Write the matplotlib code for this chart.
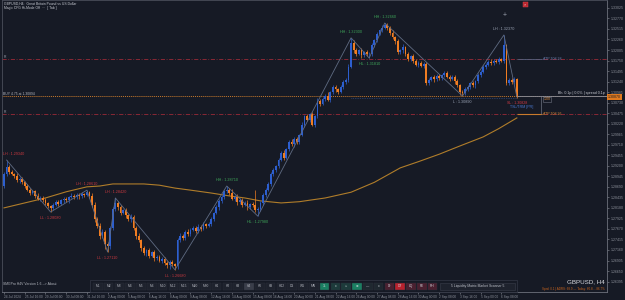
import matplotlib
matplotlib.use("Agg")
import matplotlib.pyplot as plt
from matplotlib.patches import Rectangle
import numpy as np

plt.rcParams['font.family'] = ['Liberation Sans', 'DejaVu Sans']

BG = "#161a25"
BULL = "#2d5fcf"
BEAR = "#f07d22"
AXIS_TXT = "#8d919b"

# H4 closes, in pips above 1.26000 ; bar 0 = 24 Jul 2024 08:00
closes = [
    300, 318, 305, 300, 296, 285, 288, 280, 272, 262,
    255, 258, 247, 240, 243, 236, 230, 222, 218, 226,
    232, 228, 236, 240, 236, 244, 248, 244, 250, 246,
    252, 250, 256, 248, 225, 190, 175, 150, 160, 130,
    125, 170, 215, 230, 220, 205, 212, 200, 190, 196,
    170, 150, 140, 120, 108, 115, 102, 110, 96, 100,
    90, 95, 84, 80, 88, 82, 76, 140, 150, 145,
    160, 155, 165, 170, 162, 172, 168, 178, 175, 180,
    190, 205, 220, 235, 245, 258, 262, 255, 240, 245,
    232, 238, 225, 230, 220, 228, 225, 212, 215, 230,
    250, 262, 275, 300, 310, 320, 335, 350, 340, 360,
    378, 372, 385, 378, 395, 420, 440, 432, 445, 420,
    440, 478, 470, 482, 490, 480, 498, 510, 505, 500,
    512, 522, 528, 560, 618, 600, 592, 600, 588, 595,
    590, 592, 612, 625, 640, 648, 655, 660, 655, 642,
    632, 622, 595, 600, 608, 590, 578, 585, 575, 565,
    570, 562, 566, 520, 528, 535, 530, 538, 532, 540,
    545, 536, 530, 535, 525, 515, 500, 496, 505, 512,
    520, 515, 525, 540, 548, 560, 565, 572, 568, 575,
    572, 578, 575, 612, 520, 528, 522, 530, 487,
]
first_open = 272

upper_wick = [
    6, 16, 4, 5, 3, 6, 4, 5, 3, 4,
    5, 3, 4, 6, 3, 4, 5, 3, 4, 5,
    4, 6, 3, 5, 4, 3, 5, 4, 3, 5,
    4, 3, 5, 4, 6, 8, 5, 6, 7, 5,
    6, 4, 5, 12, 4, 6, 3, 5, 4, 6,
    5, 4, 6, 3, 5, 4, 6, 3, 5, 4,
    5, 3, 4, 6, 3, 4, 3, 5, 6, 4,
    5, 6, 4, 5, 3, 6, 4, 5, 3, 4,
    5, 4, 6, 5, 4, 3, 9, 5, 8, 4,
    6, 3, 5, 4, 6, 3, 4, 37, 5, 4,
    5, 3, 6, 4, 5, 3, 4, 6, 8, 3,
    5, 6, 4, 5, 3, 6, 4, 5, 3, 6,
    4, 6, 5, 4, 3, 8, 4, 5, 6, 4,
    3, 5, 4, 6, 12, 6, 5, 4, 6, 3,
    5, 4, 6, 3, 5, 4, 5, 6, 5, 4,
    6, 3, 5, 4, 6, 3, 5, 4, 6, 3,
    5, 4, 6, 5, 4, 3, 6, 4, 5, 3,
    4, 5, 3, 6, 4, 5, 3, 4, 5, 3,
    4, 6, 3, 5, 4, 3, 5, 4, 6, 3,
    4, 5, 3, 25, 3, 5, 4, 6, 3,
]
lower_wick = [
    5, 4, 6, 3, 5, 4, 6, 3, 5, 4,
    6, 3, 5, 4, 6, 3, 5, 4, 10, 5,
    4, 6, 3, 5, 4, 6, 3, 5, 4, 6,
    3, 5, 4, 6, 5, 7, 6, 8, 5, 12,
    14, 6, 5, 4, 6, 5, 3, 6, 4, 5,
    6, 7, 5, 6, 4, 6, 5, 4, 6, 5,
    4, 6, 5, 8, 10, 6, 8, 6, 5, 4,
    6, 4, 5, 3, 6, 4, 5, 3, 6, 4,
    5, 4, 3, 6, 4, 5, 3, 6, 4, 5,
    6, 4, 5, 3, 6, 4, 5, 4, 14, 5,
    4, 6, 3, 5, 4, 6, 5, 3, 6, 4,
    5, 3, 6, 4, 5, 3, 6, 4, 5, 3,
    6, 4, 5, 3, 6, 4, 5, 3, 6, 5,
    4, 6, 3, 5, 4, 6, 5, 4, 6, 5,
    4, 9, 5, 4, 6, 3, 5, 4, 6, 5,
    4, 6, 5, 3, 6, 4, 5, 3, 6, 4,
    5, 3, 6, 4, 5, 3, 6, 4, 5, 3,
    6, 4, 5, 3, 6, 4, 8, 7, 5, 4,
    5, 3, 6, 4, 5, 3, 6, 4, 5, 3,
    4, 5, 3, 6, 4, 5, 3, 4, 2,
]

# slow moving average, read at a few bars
ma_bars = [0, 6, 16, 24, 32, 37, 42, 54, 60, 66, 72, 80, 87, 93, 99, 107,
           114, 124, 134, 143, 153, 160, 168, 176, 185, 191, 198]
ma_pips = [218, 227, 242, 257, 269, 271, 276, 276, 273, 266, 261, 254, 247, 242, 235, 230,
           233, 242, 256, 280, 315, 330, 348, 368, 390, 410, 436]

# zigzag swings
swing_bars = [1, 18, 32, 40, 43, 66, 86, 98, 134, 141, 147, 177, 193]
swing_side = ["hi", "lo", "hi", "lo", "hi", "lo", "hi", "lo", "hi", "lo", "hi", "lo", "hi"]
swing_tags = ["LH", "LL", "LH", "LL", "LH", "LL", "HH", "HL", "HH", "HL", "HH", "L", "LH"]
swing_colors = ["#c8383f", "#c8383f", "#c8383f", "#c8383f", "#c8383f", "#c8383f",
                "#3fa85a", "#3fa85a", "#3fa85a", "#3fa85a", "#3fa85a", "#9aa3b5", "#9aa3b5"]

level_r1 = 1.31788
level_r2 = 1.30460
level_buy = 1.30894
level_stop = 1.30845

price_ticks = [1.33025, 1.32770, 1.32515, 1.32260, 1.32005, 1.31750, 1.31495,
               1.31240, 1.30985, 1.30730, 1.30475, 1.30220, 1.29965, 1.29710,
               1.29455, 1.29200, 1.28945, 1.28690, 1.28435, 1.28180, 1.27925,
               1.27670, 1.27415, 1.27160, 1.26905, 1.26650, 1.26395]

time_bars = [0, 8, 16, 24, 32, 40, 48, 56, 64, 72, 80, 88, 96, 104, 112,
             120, 128, 136, 144, 152, 160, 168, 176, 184, 192]
time_labels = ["24 Jul 2024", "25 Jul 16:00", "29 Jul 00:00", "30 Jul 08:00",
               "31 Jul 16:00", "2 Aug 00:00", "5 Aug 08:00", "6 Aug 16:00",
               "8 Aug 00:00", "9 Aug 08:00", "12 Aug 16:00", "14 Aug 00:00",
               "15 Aug 08:00", "16 Aug 16:00", "20 Aug 00:00", "21 Aug 08:00",
               "22 Aug 16:00", "26 Aug 00:00", "27 Aug 08:00", "28 Aug 16:00",
               "30 Aug 00:00", "2 Sep 08:00", "3 Sep 16:00", "5 Sep 00:00",
               "6 Sep 08:00"]

tf_buttons = ["M1", "M2", "M3", "M4", "M5", "M6", "M10", "M12", "M15", "M20", "M30",
              "H1", "H2", "H3", "H4", "H6", "H8", "H12", "D1", "W1", "MN"]
tool_buttons = ["3L", "x", "\u2248", "\u2295", "\u2014", "x", "DI", "DT", "LQ", "FE", "RH"]
tool_colors = ["#1b7f62", "#1d3b3b", "#1d3b3b", "#1b7f62", "#1f2830", "#1f2830",
               "#4a2030", "#b8222e", "#4a2030", "#4a2030", "#4a2030"]


def to_price(p):
    return 1.26 + np.asarray(p, dtype=float) / 10000.0


opens = [first_open] + closes[:-1]
highs = [max(o, c) + w for o, c, w in zip(opens, closes, upper_wick)]
lows = [min(o, c) - w for o, c, w in zip(opens, closes, lower_wick)]
o_p, c_p, h_p, l_p = to_price(opens), to_price(closes), to_price(highs), to_price(lows)

n = len(closes)
bars = np.arange(n)
PX = 0.0002423  # price per pixel, used for small text offsets

fig = plt.figure(figsize=(6.25, 3.0), dpi=100, facecolor=BG)
ax = fig.add_axes([2 / 625, 8 / 300, 605 / 625, 292 / 300])
ax.set_facecolor(BG)
ax.set_xlim(-0.77, 232.8)
ax.set_ylim(1.26142, 1.33217)

# levels
ax.axhline(level_r1, color="#9a2a38", lw=0.6, ls=(0, (5, 2, 1, 2)), zorder=1)
ax.axhline(level_r2, color="#9a2a38", lw=0.6, ls=(0, (5, 2, 1, 2)), zorder=1)
ax.axhline(level_buy, color="#c97a2c", lw=0.7, ls=(0, (1, 1)), zorder=1)
ax.hlines(level_stop, 134, n - 1, color="#3b5b9b", lw=0.5, ls=(0, (1, 1.5)), zorder=1)

# moving average
ax.plot(ma_bars, to_price(ma_pips), color="#b07d2a", lw=0.8, zorder=2)

# candles
colors = [BULL if c >= o else BEAR for o, c in zip(opens, closes)]
ax.vlines(bars, l_p, h_p, colors=colors, lw=0.5, zorder=3)
ax.bar(bars, c_p - o_p, bottom=o_p, width=0.7, color=colors, lw=0, zorder=4)

# zigzag and swing labels
zz_x, zz_y = [], []
for b, side, tag, col in zip(swing_bars, swing_side, swing_tags, swing_colors):
    p = h_p[b] if side == "hi" else l_p[b]
    zz_x.append(b)
    zz_y.append(p)
    dy = 3 if side == "hi" else -3
    # the first label would hang over the left edge: start it at the edge instead
    lx, ha = (-0.5, "left") if b < 5 else (b, "center")
    ax.annotate(f"{tag} : {p:.5f}", (lx, p), xytext=(0, dy), textcoords="offset points",
                ha=ha, va="bottom" if side == "hi" else "top",
                fontsize=2.7, color=col, zorder=6)
zz_x.append(n - 1)
zz_y.append(c_p[-1])
ax.plot(zz_x, zz_y, color="#5f6b82", lw=0.6, zorder=5)

# trade panel right of last bar
ax.hlines(level_buy, n - 1, 232.8, color="#8a8f9c", lw=0.6, zorder=5)
ax.text(232, level_buy + PX, "Bh: 0.1p | 0.0% | spread 0.1p", ha="right", va="bottom",
        fontsize=2.6, color="#c5c8d0", zorder=6)
ax.hlines(level_r1, n - 1, 207.6, color="#56627f", lw=0.6, zorder=5)
ax.text(208.2, level_r1, "ATP 108.28", va="center", fontsize=2.6, color="#6a7fb0", zorder=6)
ax.hlines(level_r2, n - 1, 207.6, color="#c97a2c", lw=0.8, zorder=5)
ax.text(208.2, level_r2, "ATP 108.26", va="center", fontsize=2.6, color="#d88a3a", zorder=6)
ax.vlines(207.3, level_r2, level_buy, color="#6d7280", lw=0.5, zorder=5)
ax.text(208.2, level_buy - 1.2 * PX, "1.00", va="top", fontsize=2.6, color="#d88a3a", zorder=6,
        bbox=dict(boxstyle="square,pad=0.15", fc=BG, ec="#6d7280", lw=0.4))
ax.text(n - 1, 1.30720, "SL : 1.30828", ha="center", va="center", fontsize=2.6,
        color="#d23a44", zorder=6)
ax.text(n + 1, 1.30625, "TSL/TRM [PR]", ha="center", va="center", fontsize=2.6,
        color="#4a78d0", zorder=6)

# current price tag on the price scale
ax.text(1.002, c_p[-1], f"{c_p[-1]:.5f}", transform=ax.get_yaxis_transform(),
        ha="left", va="center", fontsize=2.5, color=BG, clip_on=False, zorder=7,
        bbox=dict(boxstyle="square,pad=0.25", fc="#e07a1f", ec="none"))

# axes
for s in ax.spines.values():
    s.set_color("#4a4e5a")
    s.set_linewidth(0.6)
ax.spines["right"].set_color("#6d717c")
ax.spines["bottom"].set_color("#6d717c")
ax.yaxis.tick_right()
ax.set_yticks(price_ticks)
ax.set_yticklabels([f"{v:.5f}" for v in price_ticks])
ax.tick_params(axis="y", labelsize=2.5, colors=AXIS_TXT, length=1.5, width=0.4, pad=1)
ax.set_xticks(time_bars)
ax.set_xticklabels(time_labels, ha="left")
ax.tick_params(axis="x", labelsize=2.3, colors=AXIS_TXT, length=1.5, width=0.4, pad=0.8)

# overlay in pixel coordinates for the terminal widgets
ov = fig.add_axes([0, 0, 1, 1])
ov.set_xlim(0, 625)
ov.set_ylim(300, 0)
ov.axis("off")
ov.patch.set_alpha(0)

ov.text(4, 2, "GBPUSD,H4:  Great Britain Pound vs US Dollar", fontsize=2.4,
        color="#c8cbd3", va="top")
ov.text(4, 5.6, "Magic CFG Hi-Mode Off  \u00b7\u00b7\u00b7  [ Tab ]", fontsize=2.4,
        color="#c8cbd3", va="top")
ov.text(3.5, 57, "R", fontsize=2.4, color="#9aa0ad", va="center")
ov.text(3.5, 112, "R", fontsize=2.4, color="#9aa0ad", va="center")
ov.text(3, 94, "BUY 4.75 at 1.30894", fontsize=2.4, color="#b5b8c0", va="center")
ov.text(3, 284, "SMGPro H4V Version 1.6 --> About", fontsize=2.4, color="#b5b8c0", va="center")
ov.text(605, 281.5, "GBPUSD, H4", fontsize=4.5, color="#d8dae0", ha="right", va="center")
ov.text(605, 289, "Sprd: 0.1 | ADRS: 68.9 --- Today: 60.8 -- 86.7%", fontsize=2.2,
        color="#c8641e", ha="right", va="center")

ov.add_patch(Rectangle((522.5, 1.5), 5.5, 5.5, fc="#b8262e", ec="#e04a50", lw=0.3))
ov.text(525.25, 4.3, "\u00d7", fontsize=3, color="#f0d0d0", ha="center", va="center")
ov.text(505, 15, "+", fontsize=5, color="#9aa0ad", ha="center", va="center")

# toolbar
ov.add_patch(Rectangle((90, 280), 427, 12, fc="none", ec="#2f3340", lw=0.6))
bx = 93.0
for lab in tf_buttons:
    fc = "#3a3e4a" if lab == "H4" else "#1e222d"
    ov.add_patch(Rectangle((bx, 282.5), 9.5, 7.5, fc=fc, ec="#2a2e39", lw=0.3))
    ov.text(bx + 4.75, 286.3, lab, fontsize=2.3, color="#b0b3bb", ha="center", va="center")
    bx += 10.8
for lab, fc in zip(tool_buttons, tool_colors):
    ov.add_patch(Rectangle((bx, 282.5), 9.5, 7.5, fc=fc, ec="#2a2e39", lw=0.3))
    ov.text(bx + 4.75, 286.3, lab, fontsize=2.3, color="#d0d3da", ha="center", va="center")
    bx += 10.8
ov.add_patch(Rectangle((bx + 1, 282.5), 515 - bx - 1, 7.5, fc="#1e222d", ec="#3a3e4a", lw=0.4))
ov.text((bx + 516) / 2, 286.3, "5 Liquidity Matrix Market Scanner 5", fontsize=2.4,
        color="#c0c3cb", ha="center", va="center")

fig.savefig("out.png", dpi=100, facecolor=BG)
